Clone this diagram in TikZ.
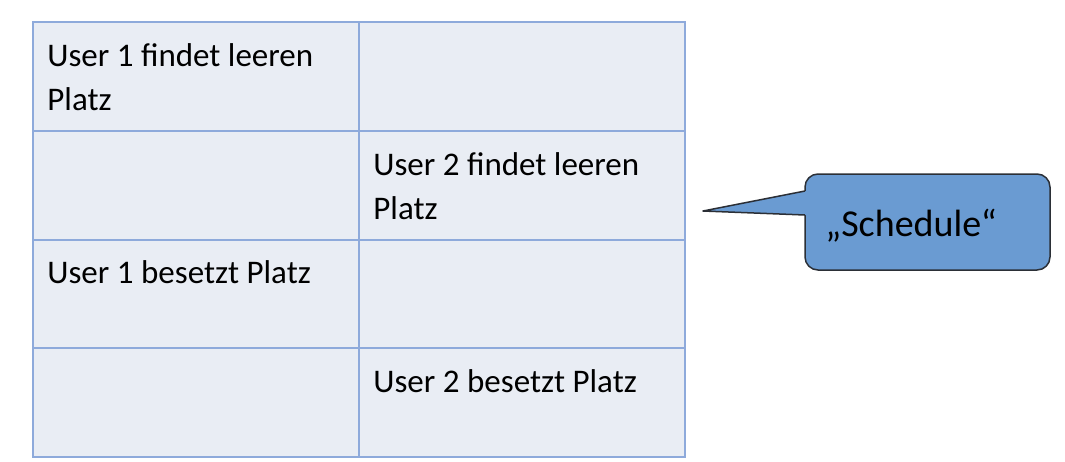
\documentclass[tikz,border=0pt]{standalone}
\usepackage{fontspec}
\setmainfont{Carlito}
\usetikzlibrary{positioning}
\definecolor{cellfill}{HTML}{E9EDF4}
\definecolor{cellline}{HTML}{8EAADB}
\definecolor{schedfill}{HTML}{6A9BD2}
\definecolor{schedline}{HTML}{2B2F36}
\tikzset{
	cell/.style={draw=cellline, fill=cellfill, line width=1pt, anchor=north west,
		minimum width=163pt, minimum height=54.5pt, inner sep=0pt},
	celltext/.style={anchor=north west, align=left, inner sep=0pt,
		font=\fontsize{16.5}{22}\selectfont}
}
% the strut makes the first line 15.4pt high, so the baseline lies 22.5pt below the cell top
\newcommand{\tablecell}[4]{
	\node[cell] (#1) at (#2,#3) {};
	\node[celltext] (#1t) at ([xshift=7.5pt, yshift=-7.1pt]#1.north west) {\strut#4};
}

\begin{document}
\begin{tikzpicture}[x=0.5pt, y=-0.5pt]
	\useasboundingbox (0,0) rectangle (1065,461);

	%the table, two columns and four rows
	\tablecell{cA}{32}{21}{User 1 findet leeren\\Platz}
	\tablecell{cB}{358}{21}{}
	\tablecell{cC}{32}{130}{}
	\tablecell{cD}{358}{130}{User 2 findet leeren\\Platz}
	\tablecell{cE}{32}{238.5}{User 1 besetzt Platz}
	\tablecell{cF}{358}{238.5}{}
	\tablecell{cG}{32}{347}{}
	\tablecell{cH}{358}{347}{User 2 besetzt Platz}

	%callout box
	\node[draw=schedline, fill=schedfill, line width=0.75pt, rounded corners=6.5pt,
		minimum width=122.5pt, minimum height=48pt, inner sep=0pt] (sched) at (927.5,222) {};
	\node[anchor=base west, inner sep=0pt, font=\fontsize{19}{24}\selectfont] (schedt) at (825,236) {„Schedule“};

	%pointer of the callout
	\coordinate (tip) at (703,211);
	\coordinate (ptop) at (805,191);
	\coordinate (pbot) at (805,215);
	\fill[schedfill] (ptop) -- (tip) -- (pbot) -- ([xshift=1pt]pbot) -- ([xshift=1pt]ptop) -- cycle;
	\draw[schedline, line width=0.75pt, line join=round] (ptop) -- (tip) -- (pbot);

\end{tikzpicture}
\end{document}
